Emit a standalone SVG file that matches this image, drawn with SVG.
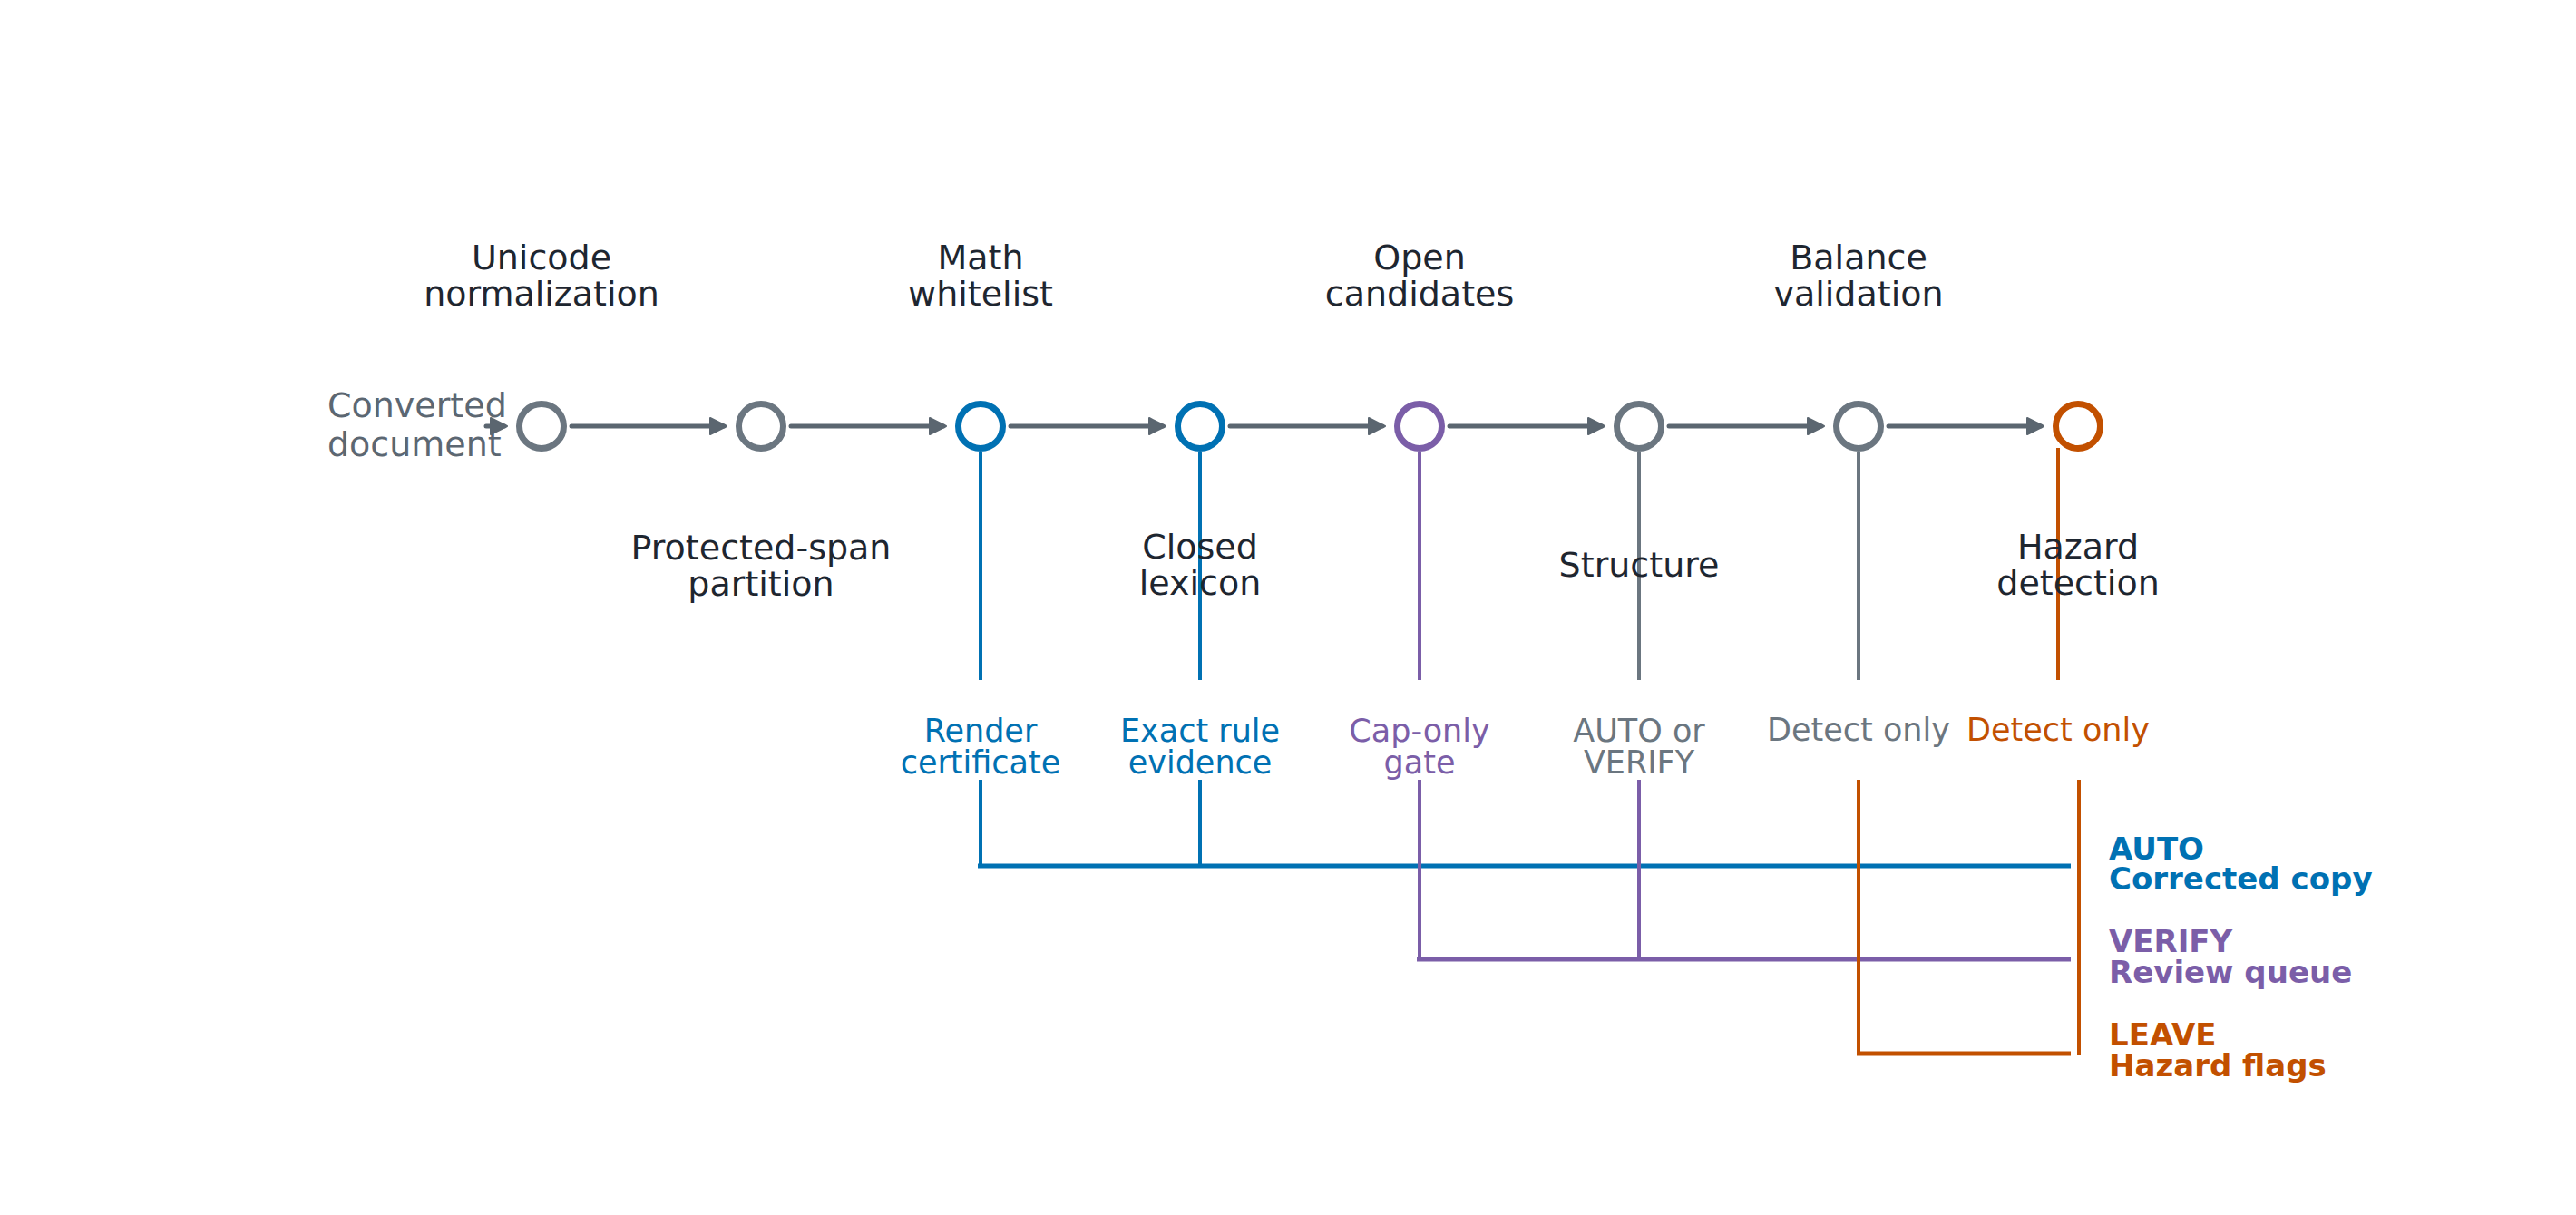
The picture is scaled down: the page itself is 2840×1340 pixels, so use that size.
<svg xmlns="http://www.w3.org/2000/svg" width="2840" height="1340" viewBox="0 0 2840 1340">
<style>
text{font-family:"DejaVu Sans","Liberation Sans",sans-serif;}
.lbl{font-size:38px;fill:#1e2630;text-anchor:middle;}
.sub{font-size:35px;text-anchor:middle;}
.leg{font-size:34px;font-weight:bold;}
.node{fill:#ffffff;stroke-width:7;}
.g{stroke:#6b7680;}
.b{stroke:#0071b3;}
.p{stroke:#7b5ea8;}
.o{stroke:#c25000;}
.tb{fill:#0071b3;}
.tp{fill:#7b5ea8;}
.to{fill:#c25000;}
.tg{fill:#6b7680;}
.arrow{stroke:#5b6670;stroke-width:5;stroke-linecap:round;fill:none;marker-end:url(#ah);}
.drop{stroke-width:4;fill:none;}
.bus{stroke-width:5;fill:none;}
</style>
<defs>
<marker id="ah" viewBox="0 0 10 10" refX="8" refY="5" markerWidth="20" markerHeight="20" markerUnits="userSpaceOnUse" orient="auto">
<path d="M0.5,0.5 L9.5,5 L0.5,9.5 z" fill="#5b6670" stroke="#5b6670" stroke-width="1" stroke-linejoin="round"/>
</marker>
</defs>
<rect width="2840" height="1340" fill="#ffffff"/>

<g id="input">
<text x="361" y="460" font-size="38" fill="#5c6772">Converted</text>
<text x="361" y="503" font-size="38" fill="#5c6772">document</text>
</g>

<g id="connectors">
<line class="arrow" x1="536" y1="470" x2="556" y2="470"/>
<line class="arrow" x1="630" y1="470" x2="798" y2="470"/>
<line class="arrow" x1="872" y1="470" x2="1040" y2="470"/>
<line class="arrow" x1="1114" y1="470" x2="1282" y2="470"/>
<line class="arrow" x1="1356" y1="470" x2="1524" y2="470"/>
<line class="arrow" x1="1598" y1="470" x2="1766" y2="470"/>
<line class="arrow" x1="1840" y1="470" x2="2008" y2="470"/>
<line class="arrow" x1="2082" y1="470" x2="2250" y2="470"/>

<line class="drop b" x1="1081" y1="498" x2="1081" y2="750"/>
<line class="drop b" x1="1323" y1="498" x2="1323" y2="750"/>
<line class="drop p" x1="1565" y1="498" x2="1565" y2="750"/>
<line class="drop g" x1="1807" y1="498" x2="1807" y2="750"/>
<line class="drop g" x1="2049" y1="498" x2="2049" y2="750"/>
<line class="drop o" x1="2269" y1="494" x2="2269" y2="750"/>

<path class="drop b" d="M1081,860 V955 M1323,860 V955"/>
<path class="bus b" d="M1078,955 H2283"/>
<path class="drop p" d="M1565,860 V1058 M1807,860 V1058"/>
<path class="bus p" d="M1562,1058 H2283"/>
<path class="drop o" d="M2049,860 V1162 M2292,860 V1164"/>
<path class="bus o" d="M2047,1162 H2283"/>
</g>

<g id="n1"><circle class="node g" cx="597" cy="470" r="24.5"/><text class="lbl" x="597" y="297">Unicode</text><text class="lbl" x="597" y="337">normalization</text></g>
<g id="n2"><circle class="node g" cx="839" cy="470" r="24.5"/><text class="lbl" x="839" y="617">Protected-span</text><text class="lbl" x="839" y="657">partition</text></g>
<g id="n3"><circle class="node b" cx="1081" cy="470" r="24.5"/><text class="lbl" x="1081" y="297">Math</text><text class="lbl" x="1081" y="337">whitelist</text>
<text class="sub tb" x="1081" y="818">Render</text><text class="sub tb" x="1081" y="853">certificate</text></g>
<g id="n4"><circle class="node b" cx="1323" cy="470" r="24.5"/><text class="lbl" x="1323" y="616">Closed</text><text class="lbl" x="1323" y="656">lexicon</text>
<text class="sub tb" x="1323" y="818">Exact rule</text><text class="sub tb" x="1323" y="853">evidence</text></g>
<g id="n5"><circle class="node p" cx="1565" cy="470" r="24.5"/><text class="lbl" x="1565" y="297">Open</text><text class="lbl" x="1565" y="337">candidates</text>
<text class="sub tp" x="1565" y="818">Cap-only</text><text class="sub tp" x="1565" y="853">gate</text></g>
<g id="n6"><circle class="node g" cx="1807" cy="470" r="24.5"/><text class="lbl" x="1807" y="636">Structure</text>
<text class="sub tg" x="1807" y="818">AUTO or</text><text class="sub tg" x="1807" y="853">VERIFY</text></g>
<g id="n7"><circle class="node g" cx="2049" cy="470" r="24.5"/><text class="lbl" x="2049" y="297">Balance</text><text class="lbl" x="2049" y="337">validation</text>
<text class="sub tg" x="2049" y="817">Detect only</text></g>
<g id="n8"><circle class="node o" cx="2291" cy="470" r="24.5"/><text class="lbl" x="2291" y="616">Hazard</text><text class="lbl" x="2291" y="656">detection</text>
<text class="sub to" x="2269" y="817">Detect only</text></g>

<g id="out-auto"><text class="leg tb" x="2325" y="948">AUTO</text><text class="leg tb" x="2325" y="981">Corrected copy</text></g>
<g id="out-verify"><text class="leg tp" x="2325" y="1050">VERIFY</text><text class="leg tp" x="2325" y="1084">Review queue</text></g>
<g id="out-leave"><text class="leg to" x="2325" y="1153">LEAVE</text><text class="leg to" x="2325" y="1187">Hazard flags</text></g>
</svg>
